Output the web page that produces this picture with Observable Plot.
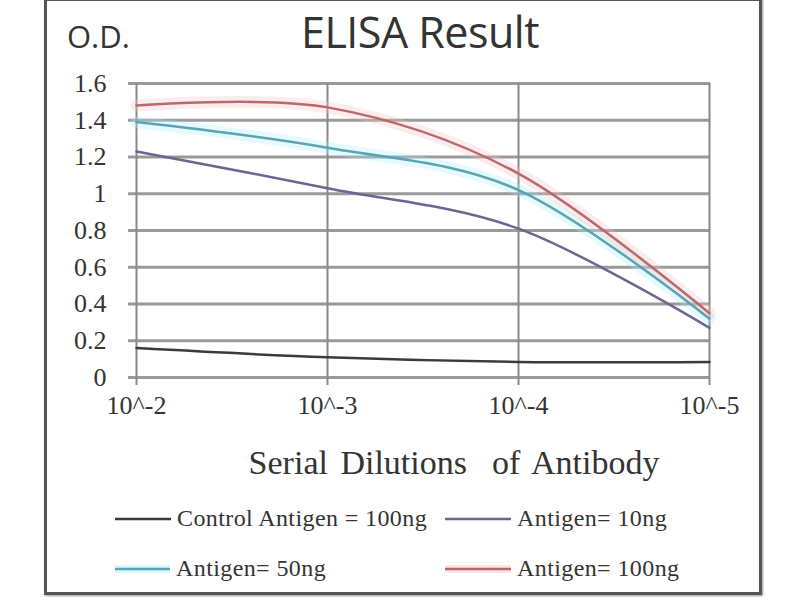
<!DOCTYPE html>
<html>
<head>
<meta charset="utf-8">
<script src="https://cdn.jsdelivr.net/npm/d3@7"></script>
<script src="https://cdn.jsdelivr.net/npm/@observablehq/plot@0.6"></script>
<style>
  html, body { margin: 0; padding: 0; background: #fff; }
  #wrap { position: relative; width: 800px; height: 600px; overflow: hidden; background: #fff; }
  #frame { position: absolute; left: 44px; top: -2px; width: 712px; height: 591px; border: 3px solid #555; box-shadow: 1px 1px 2px #999; }
  #chart { position: absolute; left: 0; top: 0; }
  .t { position: absolute; white-space: nowrap; color: #333; }
  #title { left: 0; width: 840px; text-align: center; top: 2px; font-family: "Open Sans", sans-serif; font-size: 43px; letter-spacing: -0.5px; }
  #od { left: 67px; top: 15px; font-family: "Open Sans", sans-serif; font-size: 31px; letter-spacing: 0px; }
  #xlab { left: 0; width: 908px; text-align: center; top: 444px; font-family: "Liberation Serif", serif; font-size: 34px; word-spacing: 4px; }
  .leg { position: absolute; display: flex; align-items: center; font-family: "Liberation Serif", serif; font-size: 24px; letter-spacing: 0.4px; color: #333; white-space: nowrap; }
  .leg svg { margin-right: 6px; }
</style>
</head>
<body>
<div id="wrap">
  <div id="chart"></div>
  <div id="frame"></div>
  <div class="t" id="od">O.D.</div>
  <div class="t" id="title">ELISA Result</div>
  <div class="t" id="xlab">Serial Dilutions&nbsp; of Antibody</div>
  <div id="legend"></div>
</div>
<script>
// ---- data ----
const dilutions = ["10^-2", "10^-3", "10^-4", "10^-5"];
const yTicks = [0, 0.2, 0.4, 0.6, 0.8, 1, 1.2, 1.4, 1.6];
const seriesNames = ["Control Antigen = 100ng", "Antigen= 10ng", "Antigen= 50ng", "Antigen= 100ng"];
const control = [0.16, 0.11, 0.085, 0.085];
const ag10 = [1.23, 1.03, 0.81, 0.27];
const ag50 = [1.39, 1.25, 1.02, 0.32];
const ag100 = [1.48, 1.47, 1.11, 0.35];
const seriesColors = ["#3a3a3a", "#6b6690", "#5aa3b3", "#b86a6a"];
const haloColors = ["none", "none", "#a8eef6", "#f6c0c4"];

const allSeries = [control, ag10, ag50, ag100];
const rows = [];
allSeries.forEach((vals, si) => vals.forEach((v, i) => rows.push({ series: seriesNames[si], dilution: dilutions[i], od: v, si })));

const halos = rows.filter(d => haloColors[d.si] !== "none");

const chart = Plot.plot({
  width: 800,
  height: 600,
  marginLeft: 135,
  marginRight: 90,
  marginTop: 83,
  marginBottom: 223,
  style: { background: "transparent", fontFamily: "Liberation Serif, serif", fontSize: "26px", color: "#333" },
  x: { type: "point", domain: dilutions, padding: 0, label: null },
  y: { domain: [0, 1.6], label: null },
  marks: [
    Plot.gridY(yTicks, { stroke: "#9a9a9a", strokeOpacity: 1, strokeWidth: 3 }),
    Plot.gridX(dilutions, { stroke: "#8a8a8a", strokeOpacity: 1, strokeWidth: 2 }),
    Plot.axisY(yTicks, { tickSize: 7, tickPadding: 22, stroke: "#9a9a9a", strokeWidth: 3, tickFormat: d => String(d), fontSize: 26, fill: "#333", label: null }),
    Plot.axisX(dilutions, { tickSize: 8, tickPadding: 10, stroke: "#8a8a8a", strokeWidth: 2, fontSize: 26, fill: "#333", label: null }),
    Plot.line(halos, { x: "dilution", y: "od", z: "series", stroke: d => haloColors[d.si], strokeWidth: 12, strokeOpacity: 0.3, curve: "cardinal" }),
    Plot.line(rows, { x: "dilution", y: "od", z: "series", stroke: d => seriesColors[d.si], strokeWidth: 2.5, curve: "cardinal" })
  ]
});
document.getElementById("chart").appendChild(chart);

// ---- legend ----
const legPos = [[115, 520], [445, 520], [115, 570], [445, 570]];
const legLen = [56, 66, 55, 66];
const legend = document.getElementById("legend");
seriesNames.forEach((name, i) => {
  const el = document.createElement("div");
  el.className = "leg";
  el.style.left = legPos[i][0] + "px";
  el.style.top = (legPos[i][1] - 15) + "px";
  const halo = haloColors[i] !== "none" ? `<line x1="0" y1="10" x2="${legLen[i]}" y2="10" stroke="${haloColors[i]}" stroke-width="8" stroke-opacity="0.4"/>` : "";
  el.innerHTML = `<svg width="${legLen[i]}" height="20">${halo}<line x1="0" y1="10" x2="${legLen[i]}" y2="10" stroke="${seriesColors[i]}" stroke-width="2.5"/></svg><span>${name}</span>`;
  legend.appendChild(el);
});
</script>
</body>
</html>
